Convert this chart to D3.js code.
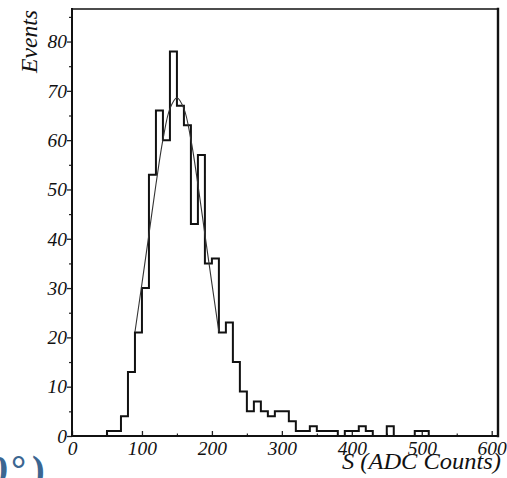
<!DOCTYPE html>
<html>
<head>
<meta charset="utf-8">
<script src="https://cdn.jsdelivr.net/npm/d3@7"></script>
<style>
  body { margin: 0; background: #fff; }
  svg { display: block; overflow: hidden; }
  .tick text { font-family: "Liberation Serif", serif; font-style: italic; font-size: 19.5px; fill: #111; }
  .axis-label { font-family: "Liberation Serif", serif; font-style: italic; font-size: 23px; fill: #111; }
</style>
</head>
<body>
<div id="viz_container"></div>
<script>
// histogram bins (lower edge, 10 ADC counts wide) and counts
const binEdges = [50, 60, 70, 80, 90, 100, 110, 120, 130, 140, 150, 160, 170, 180, 190,
  200, 210, 220, 230, 240, 250, 260, 270, 280, 290, 300, 310, 320, 330, 340,
  350, 360, 370, 380, 390, 400, 410, 420, 430, 440, 450, 460, 470, 480, 490, 500];
const counts = [1, 1, 4, 13, 21, 30, 53, 66, 60, 78, 67, 63, 43, 57, 35,
  36, 21, 23, 15, 9, 5, 7, 5, 4, 5, 5, 3, 1, 1, 2,
  1, 1, 1, 0, 1, 1, 2, 1, 0, 0, 2, 0, 0, 0, 1, 1];
const binWidth = 10;

// fit curve
const fitX = [90, 100, 110, 120, 130, 140, 150, 160, 170, 180, 190, 200, 210];
const fitY = [21.1, 30.9, 40.9, 51.0, 60.1, 66.4, 68.6, 66.4, 60.1, 51.0, 40.9, 30.9, 21.1];

// axis ticks
const xTicks = [0, 100, 200, 300, 400, 500, 600];
const xMinor = [50, 150, 250, 350, 450, 550];
const yTicks = [0, 10, 20, 30, 40, 50, 60, 70, 80];
const yMinor = [5, 15, 25, 35, 45, 55, 65, 75, 85];

// set the dimensions and margins of the graph
const W = 507, H = 478;
const margin = {top: 9, right: 9, bottom: 42, left: 72};
const width = W - margin.left - margin.right;
const height = H - margin.top - margin.bottom;

const svg = d3.select("#viz_container")
  .append("svg")
    .attr("width", W)
    .attr("height", H)
  .append("g")
    .attr("transform", `translate(${margin.left},${margin.top})`);

const xScale = d3.scaleLinear().domain([0, 609]).range([0, width]);
const yScale = d3.scaleLinear().domain([0, 86.6]).range([height, 0]);

// X axis, ticks pointing inwards
svg.append("g")
    .attr("transform", `translate(0, ${height})`)
  .call(d3.axisBottom(xScale).tickValues(xTicks).tickSize(-5).tickPadding(5))
  .call(g => g.select(".domain").remove())
  .call(g => g.selectAll("line").attr("stroke", "#222").attr("stroke-width", 1.3));
svg.append("g")
    .attr("transform", `translate(0, ${height})`)
  .call(d3.axisBottom(xScale).tickValues(xMinor).tickSize(-2.5).tickFormat(""))
  .call(g => g.select(".domain").remove())
  .call(g => g.selectAll("line").attr("stroke", "#222").attr("stroke-width", 1.2));

// Y axis, ticks pointing outwards
svg.append("g")
  .call(d3.axisLeft(yScale).tickValues(yTicks).tickSize(5).tickPadding(0))
  .call(g => g.select(".domain").remove())
  .call(g => g.selectAll("line").attr("stroke", "#222").attr("stroke-width", 1.3));
svg.append("g")
  .call(d3.axisLeft(yScale).tickValues(yMinor).tickSize(3).tickFormat(""))
  .call(g => g.select(".domain").remove())
  .call(g => g.selectAll("line").attr("stroke", "#222").attr("stroke-width", 1.2));

// frame
const frame = [
  {x1: 0, y1: 0, x2: width, y2: 0, w: 1.6},
  {x1: width, y1: 0, x2: width, y2: height, w: 2.4},
  {x1: 0, y1: height, x2: width, y2: height, w: 2},
  {x1: 0, y1: 0, x2: 0, y2: height, w: 2}
];
svg.selectAll(".frame")
  .data(frame)
  .join("line")
    .attr("class", "frame")
    .attr("x1", d => d.x1).attr("y1", d => d.y1)
    .attr("x2", d => d.x2).attr("y2", d => d.y2)
    .attr("stroke", "#111")
    .attr("stroke-width", d => d.w)
    .attr("stroke-linecap", "square");

// histogram outline as steps
const steps = [[binEdges[0], 0]];
binEdges.forEach((e, i) => {
  steps.push([e, counts[i]]);
  steps.push([e + binWidth, counts[i]]);
});
steps.push([binEdges[binEdges.length - 1] + binWidth, 0]);

const line = d3.line()
  .x(d => xScale(d[0]))
  .y(d => yScale(d[1]));

svg.append("path")
  .datum(steps)
  .attr("d", line)
  .attr("fill", "none")
  .attr("stroke", "#111")
  .attr("stroke-width", 2)
  .attr("stroke-linejoin", "miter");

// fit curve
svg.append("path")
  .datum(fitX.map((x, i) => [x, fitY[i]]))
  .attr("d", line.curve(d3.curveCatmullRom))
  .attr("fill", "none")
  .attr("stroke", "#333")
  .attr("stroke-width", 1.1);

// axis titles
svg.append("text")
    .attr("class", "axis-label")
    .attr("transform", `translate(${37 - margin.left}, 1) rotate(-90)`)
    .attr("text-anchor", "end")
    .attr("textLength", 63)
    .attr("lengthAdjust", "spacingAndGlyphs")
  .text("Events");

svg.append("text")
    .attr("class", "axis-label")
    .attr("x", 501 - margin.left)
    .attr("y", 469 - margin.top)
    .attr("text-anchor", "end")
    .attr("textLength", 159)
    .attr("lengthAdjust", "spacingAndGlyphs")
  .text("S (ADC Counts)");

// clipped fragment of blue text in the corner
const frag = svg.append("text")
    .attr("y", 482 - margin.top)
    .style("font-family", "Liberation Serif, serif")
    .style("font-weight", "bold")
    .style("font-size", "38px")
    .style("fill", "#3b6691");
frag.append("tspan").attr("x", -11 - margin.left).text("0");
frag.append("tspan").attr("x", 11 - margin.left).text("°");
frag.append("tspan").attr("x", 32 - margin.left).text(")");
</script>
</body>
</html>
